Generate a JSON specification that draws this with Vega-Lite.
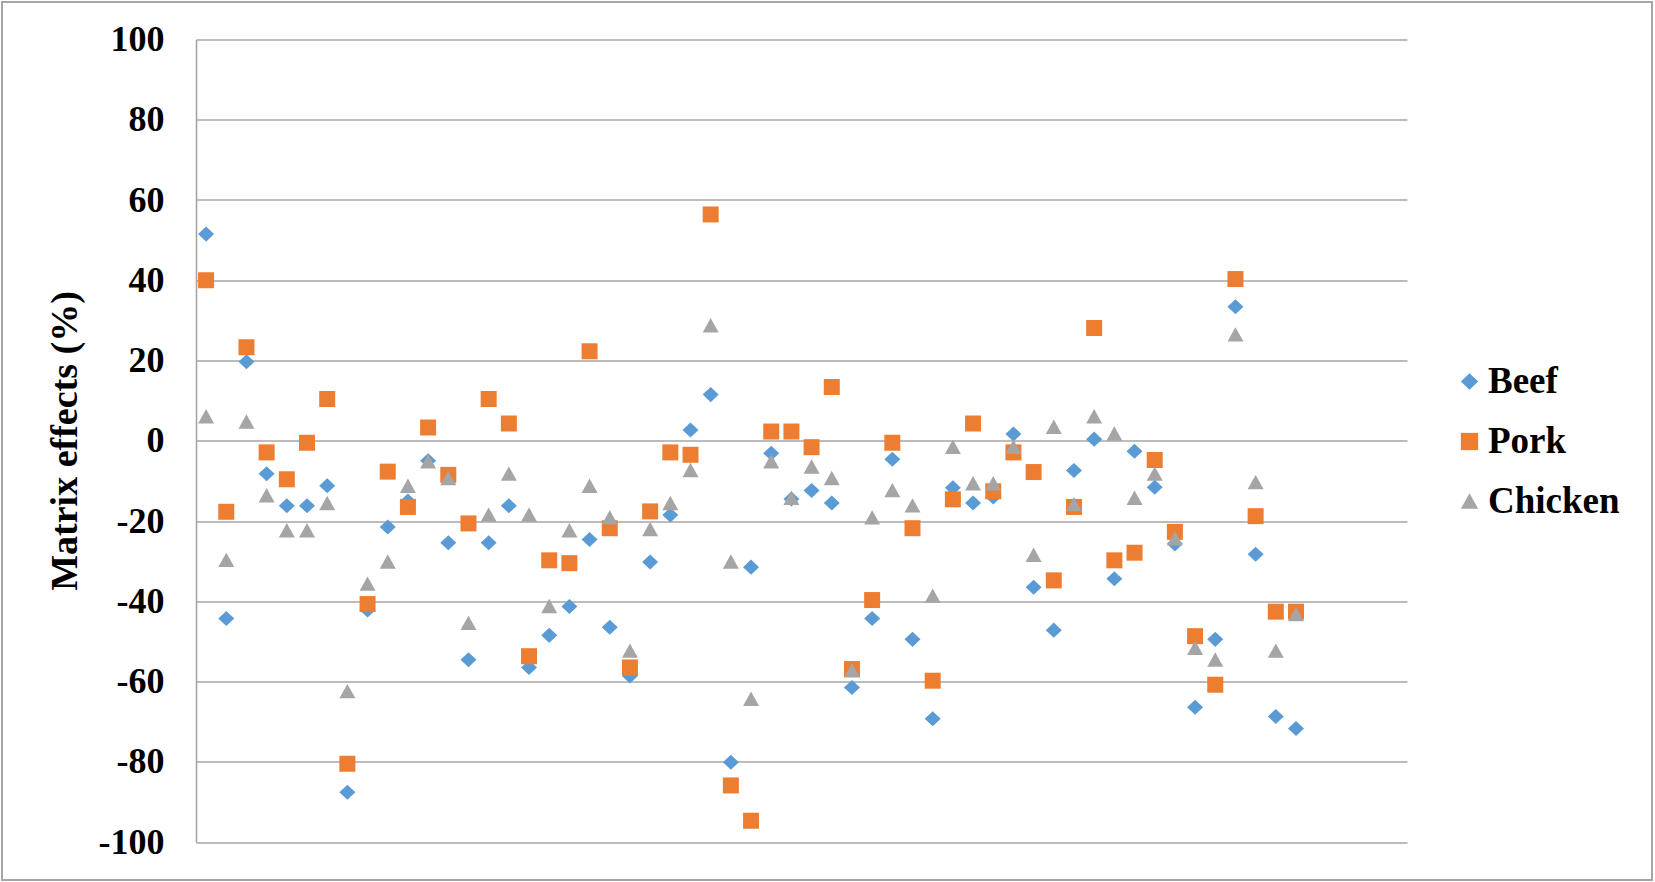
{
  "$schema": "https://vega.github.io/schema/vega-lite/v6.json",
  "width": 1211,
  "height": 802.5,
  "autosize": {"type": "none"},
  "padding": {"left": 196, "top": 39.5, "right": 248, "bottom": 40},
  "background": "white",
  "config": {"view": {"stroke": null}, "font": "Liberation Serif"},
  "resolve": {"axis": {"x": "independent", "y": "independent"}},
  "layer": [
    {
      "data": {"values": [{"a": 1}]},
      "mark": {"type": "rect", "fill": null, "fillOpacity": 0, "stroke": "#a6a6a6", "strokeWidth": 2, "clip": false},
      "encoding": {
        "x": {"datum": -9.112, "type": "quantitative", "scale": {"domain": [0.5, 60.5], "nice": false, "zero": false}, "axis": null},
        "x2": {"datum": 72.64},
        "y": {"datum": 109.346, "type": "quantitative", "scale": {"domain": [-100, 100], "nice": false, "zero": false}, "axis": null},
        "y2": {"datum": -109.47}
      }
    },
    {
      "data": {"values": [
        {"i": 1, "s": "Beef", "v": 51.5}, {"i": 2, "s": "Beef", "v": -44.3}, {"i": 3, "s": "Beef", "v": 19.7}, {"i": 4, "s": "Beef", "v": -8.2}, {"i": 5, "s": "Beef", "v": -16.2},
        {"i": 6, "s": "Beef", "v": -16.2}, {"i": 7, "s": "Beef", "v": -11.2}, {"i": 8, "s": "Beef", "v": -87.6}, {"i": 9, "s": "Beef", "v": -42.2}, {"i": 10, "s": "Beef", "v": -21.5},
        {"i": 11, "s": "Beef", "v": -15}, {"i": 12, "s": "Beef", "v": -5}, {"i": 13, "s": "Beef", "v": -25.4}, {"i": 14, "s": "Beef", "v": -54.6}, {"i": 15, "s": "Beef", "v": -25.4},
        {"i": 16, "s": "Beef", "v": -16.2}, {"i": 17, "s": "Beef", "v": -56.5}, {"i": 18, "s": "Beef", "v": -48.5}, {"i": 19, "s": "Beef", "v": -41.3}, {"i": 20, "s": "Beef", "v": -24.6},
        {"i": 21, "s": "Beef", "v": -46.5}, {"i": 22, "s": "Beef", "v": -58.6}, {"i": 23, "s": "Beef", "v": -30.2}, {"i": 24, "s": "Beef", "v": -18.5}, {"i": 25, "s": "Beef", "v": 2.7},
        {"i": 26, "s": "Beef", "v": 11.5}, {"i": 27, "s": "Beef", "v": -80.1}, {"i": 28, "s": "Beef", "v": -31.5}, {"i": 29, "s": "Beef", "v": -3.1}, {"i": 30, "s": "Beef", "v": -14.5},
        {"i": 31, "s": "Beef", "v": -12.4}, {"i": 32, "s": "Beef", "v": -15.5}, {"i": 33, "s": "Beef", "v": -61.5}, {"i": 34, "s": "Beef", "v": -44.3}, {"i": 35, "s": "Beef", "v": -4.6},
        {"i": 36, "s": "Beef", "v": -49.5}, {"i": 37, "s": "Beef", "v": -69.3}, {"i": 38, "s": "Beef", "v": -11.7}, {"i": 39, "s": "Beef", "v": -15.5}, {"i": 40, "s": "Beef", "v": -14},
        {"i": 41, "s": "Beef", "v": 1.7}, {"i": 42, "s": "Beef", "v": -36.5}, {"i": 43, "s": "Beef", "v": -47.2}, {"i": 44, "s": "Beef", "v": -7.4}, {"i": 45, "s": "Beef", "v": 0.4},
        {"i": 46, "s": "Beef", "v": -34.4}, {"i": 47, "s": "Beef", "v": -2.6}, {"i": 48, "s": "Beef", "v": -11.6}, {"i": 49, "s": "Beef", "v": -25.7}, {"i": 50, "s": "Beef", "v": -66.4},
        {"i": 51, "s": "Beef", "v": -49.5}, {"i": 52, "s": "Beef", "v": 33.4}, {"i": 53, "s": "Beef", "v": -28.3}, {"i": 54, "s": "Beef", "v": -68.7}, {"i": 55, "s": "Beef", "v": -71.7},
        {"i": 1, "s": "Pork", "v": 40}, {"i": 2, "s": "Pork", "v": -17.7}, {"i": 3, "s": "Pork", "v": 23.3}, {"i": 4, "s": "Pork", "v": -2.9}, {"i": 5, "s": "Pork", "v": -9.6},
        {"i": 6, "s": "Pork", "v": -0.5}, {"i": 7, "s": "Pork", "v": 10.4}, {"i": 8, "s": "Pork", "v": -80.5}, {"i": 9, "s": "Pork", "v": -40.7}, {"i": 10, "s": "Pork", "v": -7.7},
        {"i": 11, "s": "Pork", "v": -16.5}, {"i": 12, "s": "Pork", "v": 3.3}, {"i": 13, "s": "Pork", "v": -8.5}, {"i": 14, "s": "Pork", "v": -20.6}, {"i": 15, "s": "Pork", "v": 10.4},
        {"i": 16, "s": "Pork", "v": 4.3}, {"i": 17, "s": "Pork", "v": -53.7}, {"i": 18, "s": "Pork", "v": -29.8}, {"i": 19, "s": "Pork", "v": -30.5}, {"i": 20, "s": "Pork", "v": 22.3},
        {"i": 21, "s": "Pork", "v": -21.8}, {"i": 22, "s": "Pork", "v": -56.5}, {"i": 23, "s": "Pork", "v": -17.6}, {"i": 24, "s": "Pork", "v": -2.9}, {"i": 25, "s": "Pork", "v": -3.5},
        {"i": 26, "s": "Pork", "v": 56.4}, {"i": 27, "s": "Pork", "v": -85.9}, {"i": 28, "s": "Pork", "v": -94.7}, {"i": 29, "s": "Pork", "v": 2.3}, {"i": 30, "s": "Pork", "v": 2.3},
        {"i": 31, "s": "Pork", "v": -1.6}, {"i": 32, "s": "Pork", "v": 13.4}, {"i": 33, "s": "Pork", "v": -56.9}, {"i": 34, "s": "Pork", "v": -39.7}, {"i": 35, "s": "Pork", "v": -0.5},
        {"i": 36, "s": "Pork", "v": -21.8}, {"i": 37, "s": "Pork", "v": -59.8}, {"i": 38, "s": "Pork", "v": -14.6}, {"i": 39, "s": "Pork", "v": 4.3}, {"i": 40, "s": "Pork", "v": -12.6},
        {"i": 41, "s": "Pork", "v": -2.9}, {"i": 42, "s": "Pork", "v": -7.8}, {"i": 43, "s": "Pork", "v": -34.8}, {"i": 44, "s": "Pork", "v": -16.5}, {"i": 45, "s": "Pork", "v": 28.1},
        {"i": 46, "s": "Pork", "v": -29.8}, {"i": 47, "s": "Pork", "v": -27.9}, {"i": 48, "s": "Pork", "v": -4.8}, {"i": 49, "s": "Pork", "v": -22.7}, {"i": 50, "s": "Pork", "v": -48.7},
        {"i": 51, "s": "Pork", "v": -60.8}, {"i": 52, "s": "Pork", "v": 40.3}, {"i": 53, "s": "Pork", "v": -18.8}, {"i": 54, "s": "Pork", "v": -42.6}, {"i": 55, "s": "Pork", "v": -42.6},
        {"i": 1, "s": "Chicken", "v": 6}, {"i": 2, "s": "Chicken", "v": -29.8}, {"i": 3, "s": "Chicken", "v": 4.7}, {"i": 4, "s": "Chicken", "v": -13.7}, {"i": 5, "s": "Chicken", "v": -22.4},
        {"i": 6, "s": "Chicken", "v": -22.4}, {"i": 7, "s": "Chicken", "v": -15.6}, {"i": 8, "s": "Chicken", "v": -62.5}, {"i": 9, "s": "Chicken", "v": -35.7}, {"i": 10, "s": "Chicken", "v": -30.2},
        {"i": 11, "s": "Chicken", "v": -11.3}, {"i": 12, "s": "Chicken", "v": -5.2}, {"i": 13, "s": "Chicken", "v": -9.4}, {"i": 14, "s": "Chicken", "v": -45.5}, {"i": 15, "s": "Chicken", "v": -18.5},
        {"i": 16, "s": "Chicken", "v": -8.3}, {"i": 17, "s": "Chicken", "v": -18.5}, {"i": 18, "s": "Chicken", "v": -41.3}, {"i": 19, "s": "Chicken", "v": -22.4}, {"i": 20, "s": "Chicken", "v": -11.3},
        {"i": 21, "s": "Chicken", "v": -19.2}, {"i": 22, "s": "Chicken", "v": -52.4}, {"i": 23, "s": "Chicken", "v": -22.1}, {"i": 24, "s": "Chicken", "v": -15.6}, {"i": 25, "s": "Chicken", "v": -7.4},
        {"i": 26, "s": "Chicken", "v": 28.7}, {"i": 27, "s": "Chicken", "v": -30.2}, {"i": 28, "s": "Chicken", "v": -64.4}, {"i": 29, "s": "Chicken", "v": -5.2}, {"i": 30, "s": "Chicken", "v": -14.3},
        {"i": 31, "s": "Chicken", "v": -6.5}, {"i": 32, "s": "Chicken", "v": -9.4}, {"i": 33, "s": "Chicken", "v": -57.3}, {"i": 34, "s": "Chicken", "v": -19.2}, {"i": 35, "s": "Chicken", "v": -12.4},
        {"i": 36, "s": "Chicken", "v": -16.2}, {"i": 37, "s": "Chicken", "v": -38.7}, {"i": 38, "s": "Chicken", "v": -1.6}, {"i": 39, "s": "Chicken", "v": -10.7}, {"i": 40, "s": "Chicken", "v": -10.7},
        {"i": 41, "s": "Chicken", "v": -1.6}, {"i": 42, "s": "Chicken", "v": -28.5}, {"i": 43, "s": "Chicken", "v": 3.4}, {"i": 44, "s": "Chicken", "v": -15.9}, {"i": 45, "s": "Chicken", "v": 6},
        {"i": 46, "s": "Chicken", "v": 1.7}, {"i": 47, "s": "Chicken", "v": -14.3}, {"i": 48, "s": "Chicken", "v": -8.3}, {"i": 49, "s": "Chicken", "v": -24.4}, {"i": 50, "s": "Chicken", "v": -51.7},
        {"i": 51, "s": "Chicken", "v": -54.6}, {"i": 52, "s": "Chicken", "v": 26.4}, {"i": 53, "s": "Chicken", "v": -10.4}, {"i": 54, "s": "Chicken", "v": -52.4}, {"i": 55, "s": "Chicken", "v": -43.3}
      ]},
      "mark": {"type": "point", "filled": true, "opacity": 1, "size": 256, "strokeWidth": 0},
      "encoding": {
        "x": {"field": "i", "type": "quantitative", "scale": {"domain": [0.5, 60.5], "nice": false, "zero": false}, "axis": null},
        "y": {
          "field": "v", "type": "quantitative",
          "scale": {"domain": [-100, 100], "nice": false, "zero": false},
          "axis": {
            "values": [-100, -80, -60, -40, -20, 0, 20, 40, 60, 80, 100],
            "labelExpr": "'' + datum.value",
            "domain": true, "domainColor": "#a6a6a6", "domainWidth": 1.6,
            "ticks": false, "grid": true, "gridColor": "#a6a6a6", "gridWidth": 1.6, "gridOpacity": 1,
            "labelPadding": 32, "labelFont": "Liberation Serif", "labelFontSize": 36, "labelFontWeight": "bold", "labelColor": "#000000",
            "labelOverlap": false, "labelFlush": false,
            "title": "Matrix effects (%)", "titleFont": "Liberation Serif", "titleFontSize": 38, "titleFontWeight": "bold", "titleColor": "#000000",
            "titleX": -120, "titleY": 401, "titleAngle": -90, "titleBaseline": "alphabetic", "titleAlign": "center"
          }
        },
        "color": {
          "field": "s", "type": "nominal",
          "scale": {"domain": ["Beef", "Pork", "Chicken"], "range": ["#5B9BD5", "#ED7D31", "#A5A5A5"]},
          "legend": {"orient": "none", "legendX": 1255, "legendY": 323.5, "title": null, "padding": 0,
            "labelFont": "Liberation Serif", "labelFontSize": 37, "labelFontWeight": "bold", "labelColor": "#000000",
            "symbolSize": 300, "labelOffset": 0, "rowPadding": 22, "symbolStrokeWidth": 0, "symbolOpacity": 1}
        },
        "shape": {
          "field": "s", "type": "nominal",
          "scale": {"domain": ["Beef", "Pork", "Chicken"], "range": ["M0,-0.94L1,0L0,0.94L-1,0Z", "M-1,-1L1,-1L1,1L-1,1Z", "M0,-0.95L1,0.85L-1,0.85Z"]},
          "legend": {"orient": "none", "legendX": 1255, "legendY": 323.5, "title": null, "padding": 0,
            "labelFont": "Liberation Serif", "labelFontSize": 37, "labelFontWeight": "bold", "labelColor": "#000000",
            "symbolSize": 300, "labelOffset": 0, "rowPadding": 22, "symbolStrokeWidth": 0, "symbolOpacity": 1}
        }
      }
    }
  ]
}
